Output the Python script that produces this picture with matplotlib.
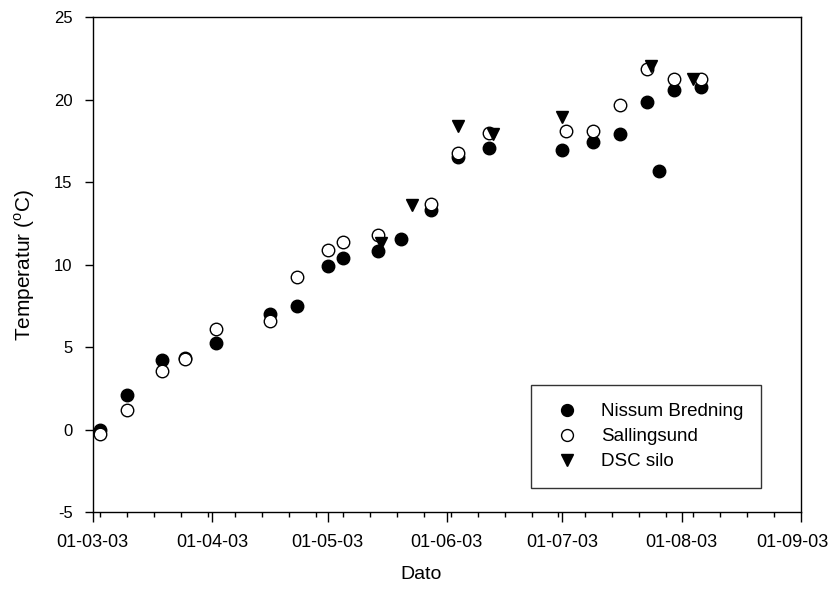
import datetime as dt
import matplotlib
matplotlib.use("Agg")
import matplotlib.pyplot as plt
import matplotlib.dates as mdates
from matplotlib.transforms import ScaledTranslation

plt.rcParams['font.family'] = ['Liberation Sans', 'DejaVu Sans']
plt.rcParams['mathtext.fontset'] = 'custom'
plt.rcParams['mathtext.rm'] = 'Liberation Sans'
plt.rcParams['axes.unicode_minus'] = False

# Målinger (dag-måned), 2003
nissum_dates = ['03-03', '10-03', '19-03', '25-03', '02-04', '16-04', '23-04',
                '01-05', '05-05', '14-05', '20-05', '28-05', '04-06', '12-06',
                '01-07', '09-07', '16-07', '23-07', '26-07', '30-07', '06-08']
nissum_temp = [0.0, 2.1, 4.2, 4.35, 5.25, 7.0, 7.5,
               9.9, 10.4, 10.85, 11.55, 13.3, 16.5, 17.05,
               16.95, 17.45, 17.9, 19.85, 15.7, 20.6, 20.8]

salling_dates = ['03-03', '10-03', '19-03', '25-03', '02-04', '16-04', '23-04',
                 '01-05', '05-05', '14-05', '28-05', '04-06', '12-06',
                 '02-07', '09-07', '16-07', '23-07', '30-07', '06-08']
salling_temp = [-0.25, 1.2, 3.55, 4.3, 6.1, 6.6, 9.25,
                10.9, 11.35, 11.8, 13.7, 16.75, 18.0,
                18.1, 18.1, 19.7, 21.85, 21.25, 21.25]

dsc_dates = ['15-05', '23-05', '04-06', '13-06', '01-07', '24-07', '04-08']
dsc_temp = [11.3, 13.6, 18.4, 17.95, 18.95, 22.05, 21.25]


def to_dates(lst):
    return [dt.datetime.strptime(d + '-2003', '%d-%m-%Y') for d in lst]


fig = plt.figure(figsize=(8.33, 5.95), dpi=100)
ax = fig.add_axes([0.1113, 0.1395, 0.8503, 0.8314])

ax.plot(to_dates(nissum_dates), nissum_temp, 'o', color='black', ms=9,
        label='Nissum Bredning', zorder=3)
ax.plot(to_dates(salling_dates), salling_temp, 'o', mfc='white', mec='black',
        mew=1.0, ms=9, label='Sallingsund', zorder=4)
ax.plot(to_dates(dsc_dates), dsc_temp, 'v', color='black', ms=9,
        label='DSC silo', zorder=5)

ax.set_xlim(dt.datetime(2003, 3, 1), dt.datetime(2003, 9, 1))
ax.set_ylim(-5, 25)
ax.set_yticks(range(-5, 26, 5))
ax.xaxis.set_major_locator(mdates.MonthLocator())
ax.xaxis.set_major_formatter(mdates.DateFormatter('%d-%m-%y'))
ax.xaxis.set_minor_locator(mdates.WeekdayLocator(byweekday=mdates.MO))

ax.tick_params(axis='both', which='major', direction='out', width=1)
ax.tick_params(axis='x', which='major', length=7, pad=9, labelsize=13)
ax.tick_params(axis='x', which='minor', length=3.5, width=1)
ax.tick_params(axis='y', which='major', length=6, pad=8.5, labelsize=12)
for s in ax.spines.values():
    s.set_linewidth(1)

# keep the last date label inside the figure
fig.canvas.draw()
last = ax.get_xticklabels()[-1]
last.set_transform(last.get_transform() + ScaledTranslation(-6 / 72, 0, fig.dpi_scale_trans))

ax.set_xlabel('Dato', fontsize=14)
ax.xaxis.set_label_coords(0.4635, -0.109)
ax.set_ylabel('Temperatur ($^{\\rm o}$C)', fontsize=15)
ax.yaxis.set_label_coords(-0.079, 0.5)

leg = ax.legend(loc='lower right', bbox_to_anchor=(0.9435, 0.0485),
                borderaxespad=0, fancybox=False, edgecolor='black',
                fontsize=13.5, markerscale=0.95, handletextpad=0.84,
                labelspacing=0.42, borderpad=0.95, handlelength=1.94)
leg.get_frame().set_linewidth(1)

fig.savefig('out.png', dpi=100)
